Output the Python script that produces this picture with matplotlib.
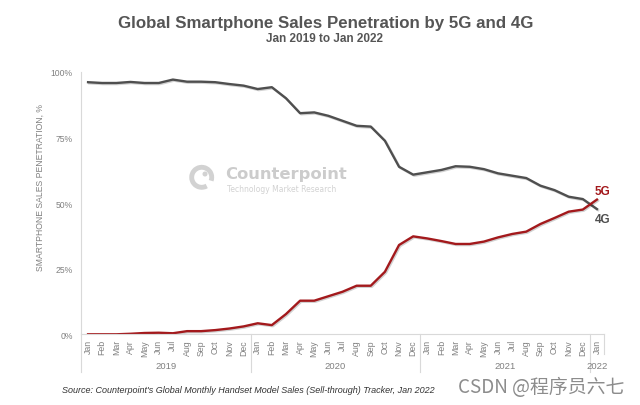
import matplotlib
matplotlib.use("Agg")
import matplotlib.pyplot as plt
import matplotlib.patheffects as pe
import matplotlib.transforms as mtransforms
from matplotlib.patches import Arc, Circle

plt.rcParams['font.family'] = ['Liberation Sans', 'DejaVu Sans']

months = ["Jan", "Feb", "Mar", "Apr", "May", "Jun", "Jul", "Aug", "Sep", "Oct", "Nov", "Dec"]
month_labels = months * 3 + ["Jan"]
years = ["2019", "2020", "2021", "2022"]

share_4g = [96.0, 95.7, 95.7, 96.1, 95.7, 95.7, 97.0, 96.2, 96.2, 96.0, 95.3, 94.7,
            93.4, 94.1, 89.9, 84.2, 84.5, 83.2, 81.3, 79.4, 79.1, 73.7, 63.8, 60.8,
            61.7, 62.6, 64.0, 63.8, 62.9, 61.3, 60.4, 59.5, 56.6, 54.9, 52.4, 51.5,
            47.7]
share_5g = [0.0, 0.0, 0.0, 0.2, 0.5, 0.6, 0.4, 1.2, 1.2, 1.6, 2.2, 3.0,
            4.2, 3.5, 7.7, 12.8, 12.8, 14.5, 16.2, 18.5, 18.5, 23.8, 34.0, 37.3,
            36.5, 35.5, 34.4, 34.4, 35.3, 36.9, 38.2, 39.1, 42.0, 44.3, 46.7, 47.5,
            51.3]
yticks = [0, 25, 50, 75, 100]

W, H = 640, 406
fig = plt.figure(figsize=(6.4, 4.06), dpi=100)

# watermark logo layer (behind the plot)
ax_logo = fig.add_axes([0, 0, 1, 1], zorder=0)
ax_logo.set_xlim(0, W)
ax_logo.set_ylim(H, 0)
ax_logo.axis('off')
ax_logo.add_patch(Arc((201.7, 178.3), 20, 20, theta1=-300, theta2=20, color='#d2d2d2', lw=3.5))
ax_logo.add_patch(Circle((205, 175), 1.8, color='#d2d2d2'))
ax_logo.text(225, 175, "Counterpoint", ha='left', va='center', fontsize=11.8,
             fontweight='bold', color='#cccccc', family=['DejaVu Sans'])
ax_logo.text(226.7, 189.3, "Technology Market Research", ha='left', va='center',
             fontsize=5.5, color='#d2d2d2', family=['DejaVu Sans'])

ax = fig.add_axes([81 / W, (H - 335.3) / H, (604 - 81) / W, (335.3 - 72.7) / H], zorder=1)
ax.set_facecolor('none')

x = list(range(len(month_labels)))
shadow = [pe.SimpleLineShadow(offset=(0.8, -0.8), shadow_color='#000000', alpha=0.18), pe.Normal()]
ax.plot(x, share_4g, color='#4f4f4f', lw=1.7, path_effects=shadow, solid_joinstyle='round')
ax.plot(x, share_5g, color='#a3191c', lw=1.7, path_effects=shadow, solid_joinstyle='round')

ax.set_xlim(-0.5, len(month_labels) - 0.5)
ax.set_ylim(0, 100)
ax.set_yticks(yticks)
ax.set_yticklabels([f"{v}%" for v in yticks])
ax.tick_params(axis='y', length=0, pad=6, labelsize=6.2, labelcolor='#808080')
ax.set_xticks([])
for s in ['top', 'right']:
    ax.spines[s].set_visible(False)
for s in ['left', 'bottom']:
    ax.spines[s].set_color('#d9d9d9')
    ax.spines[s].set_linewidth(0.8)

trans = mtransforms.blended_transform_factory(ax.transData, ax.transAxes)
for i, m in enumerate(month_labels):
    ax.text(i, -0.018, m, transform=trans, rotation=90, ha='center', va='top',
            fontsize=6.3, color='#808080')

# category box lines
for xb in [-0.5, 11.5, 23.5, 35.5]:
    ax.plot([xb, xb], [0, -0.143], transform=trans, color='#d9d9d9', lw=0.8, clip_on=False)
ax.plot([36.5, 36.5], [0, -0.075], transform=trans, color='#d9d9d9', lw=0.8, clip_on=False)

year_pos = [5.5, 17.5, 29.5, 36]
for yp, yl in zip(year_pos, years):
    ax.text(yp, -0.12, yl, transform=trans, ha='center', va='center', fontsize=6.8, color='#808080')

# series labels
ax.text(36.4, 54.6, "5G", ha='center', va='center', fontsize=8.5, fontweight='bold',
        color='#a3191c', clip_on=False)
ax.text(36.4, 43.9, "4G", ha='center', va='center', fontsize=8.5, fontweight='bold',
        color='#4f4f4f', clip_on=False)

# titles
fig.text(325.5 / W, 1 - 27.7 / H, "Global Smartphone Sales Penetration by 5G and 4G",
         ha='center', va='baseline', fontsize=12.2, fontweight='bold', color='#555555')
fig.text(325 / W, 1 - 41.7 / H, "Jan 2019 to Jan 2022",
         ha='center', va='baseline', fontsize=8.5, fontweight='bold', color='#555555')

# y label
fig.text(40 / W, 1 - 188 / H, "SMARTPHONE SALES PENETRATION, %", rotation=90,
         ha='center', va='center', fontsize=6.2, color='#808080')

# source
fig.text(62 / W, 1 - 391 / H,
         "Source: Counterpoint's Global Monthly Handset Model Sales (Sell-through) Tracker, Jan 2022",
         ha='left', va='center', fontsize=6.5, style='italic', color='#333333')

# CSDN watermark
fig.text(624 / W, 1 - 388 / H, "CSDN @程序员六七", ha='right', va='center', fontsize=13.6,
         color='#8c8c8c', family=['Noto Sans CJK SC', 'DejaVu Sans'])

fig.savefig("out.png", dpi=100)
